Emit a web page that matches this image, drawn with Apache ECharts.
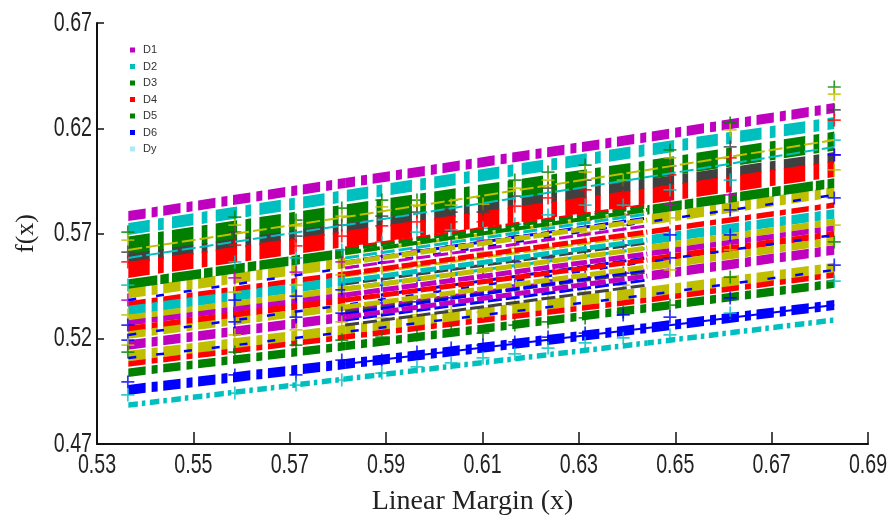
<!DOCTYPE html>
<html><head><meta charset="utf-8">
<style>html,body{margin:0;padding:0;background:#fff}#c{width:893px;height:519px}</style>
<script src="https://cdn.jsdelivr.net/npm/echarts@6/dist/echarts.min.js"></script>
</head><body><div id="c"></div>
<script>
var legendNames = ['D1','D2','D3','D4','D5','D6','Dy'];
var xTicks = [0.53,0.55,0.57,0.59,0.61,0.63,0.65,0.67,0.69];
var yTicks = [0.47,0.52,0.57,0.62,0.67];
var knotX = [0.5365, 0.5815, 0.6442, 0.683];
var crossX = [0.5364,0.5586,0.5713,0.5808,0.5891,0.5964,0.6035,0.6101,0.6167,0.6236,0.6313,0.6392,0.6489,0.6614,0.6830];

// full-length thick bands, values at knotX
var d1 = [0.5783,0.5940,0.6158,0.6296];
var d2 = [0.5721,0.5878,0.6097,0.6225];
var d3 = [0.5641,0.5793,0.6002,0.6139];
var greyBand = [0.5579,0.5726,0.5935,0.6063];
var d4 = [0.5527,0.5674,0.5878,0.6006];
var d5 = [0.5460,0.5607,0.5812,0.5940];
var d6 = [0.4957,0.5080,0.5251,0.5360];
var cyanLow = [0.4885,0.5009,0.5180,0.5289];
var oliveLow = [0.5118,0.5241,0.5422,0.5536];
var redLow = [0.5080,0.5208,0.5384,0.5503];
var greenLow = [0.5039,0.5165,0.5346,0.5462];

// bands that narrow between the 2nd and 3rd knot
var olive1 = [0.5417,0.5560,0.5764,0.5897];
var red1 = [0.5365,0.5508,0.5707,0.5835];
var cyan1 = [0.5334,0.5474,0.5669,0.5793];
var olive2 = [0.5299,0.5436,0.5631,0.5755];
var magenta1 = [0.5275,0.5408,0.5603,0.5726];
var red2 = [0.5246,0.5384,0.5574,0.5698];
var olive3 = [0.5218,0.5351,0.5541,0.5664];
var magenta2 = [0.5170,0.5303,0.5498,0.5622];

// thin full-length lines
var thinOliveTop = [0.5622,0.5778,0.6002,0.6144];
var thinCyanTop = [0.5584,0.5740,0.5968,0.6111];
var thinBlue1 = [0.5384,0.5536,0.5755,0.5883];
var thinBlue2 = [0.5218,0.5361,0.5565,0.5693];
var thinBlue3 = [0.5109,0.5232,0.5408,0.5527];

// thin lines of the central bundle, values at the 2nd and 3rd knot
var midBlue1 = [0.5565,0.5774];
var midGreen = [0.5622,0.5826];
var midOlive = [0.5603,0.5807];
var midCyan = [0.5584,0.5793];
var midMagenta1 = [0.5536,0.5736];
var midGrey1 = [0.5460,0.5655];
var midBlue2 = [0.5384,0.5584];
var midMagenta2 = [0.5337,0.5527];
var midGrey2 = [0.5327,0.5517];
var midBlue3 = [0.5318,0.5527];
var midBlue4 = [0.5289,0.5479];
var midGrey3 = [0.5265,0.5455];
var midRed = [0.5631,0.5835];
var midOlive2 = [0.5498,0.5693];
var midCyan2 = [0.5441,0.5631];

// plus marks, values at crossX
var crossGreenTop = [.5707,.5778,.5764,.5821,.5859,.5859,.5859,.5869,.5954,.5992,.6025,.5987,.6097,.6225,.6396];
var crossOliveTop = [.5669,.5740,.5736,.5783,.5826,.5835,.5835,.5840,.5916,.5954,.5992,.5954,.6059,.6192,.6362];
var crossGrey = [.5612,.5707,.5688,.5740,.5783,.5802,.5802,.5802,.5878,.5916,.5954,.5916,.6021,.6111,.6287];
var crossRed = [.5565,.5645,.5641,.5688,.5736,.5755,.5755,.5755,.5830,.5869,.5907,.5878,.5978,.6059,.6239];
var crossCyan = [.5455,.5565,.5584,.5622,.5660,.5707,.5717,.5726,.5745,.5788,.5835,.5835,.5907,.5954,.6144];
var crossMagenta = [.5384,.5489,.5517,.5565,.5593,.5622,.5641,.5669,.5688,.5726,.5764,.5788,.5835,.5883,.6073];
var crossOlive2 = [.5313,.5422,.5455,.5503,.5536,.5565,.5584,.5612,.5631,.5669,.5707,.5740,.5774,.5812,.6002];
var crossBlueD = [.5265,.5384,.5403,.5432,.5455,.5479,.5503,.5527,.5565,.5584,.5622,.5645,.5693,.5812,.6073];
var crossBlueA = [.5194,.5280,.5303,.5322,.5370,.5375,.5394,.5408,.5455,.5479,.5493,.5512,.5584,.5693,.5869];
var crossOliveB = [.5170,.5218,.5242,.5280,.5299,.5313,.5337,.5327,.5360,.5394,.5422,.5455,.5527,.5622,.5740];
var crossGreenB = [.5137,.5137,.5170,.5194,.5208,.5218,.5242,.5227,.5265,.5280,.5299,.5327,.5360,.5493,.5660];
var crossBlueB = [.4995,.5028,.5028,.5099,.5099,.5137,.5156,.5170,.5185,.5208,.5227,.5313,.5303,.5394,.5550];
var crossCyanB = [.4933,.4942,.4980,.5004,.5037,.5066,.5085,.5109,.5128,.5156,.5180,.5204,.5218,.5322,.5474];

var MAG='#BF00BF', CYA='#00BFBF', GRN='#007F00', RED='#FF0000', BLU='#0000FF', OLI='#BFBF00', GRY='#404040', LIGHT='#ADEAF7';
var DASH35=[17.3,6,6,5.6], DASH44=[21.4,8.3,5.7,8.3], DASH21=[9.5,4,3.5,4.5], DASHG=[29,3,8.5,3.2], DASHT=[14,4], DASHM=[16,3], DASHB=[8,20];

function pts(xs, ys){ return ys.map(function(y,i){return [xs[i],y];}); }
function line(name,color,width,dash,data){
  return {name:name,type:'line',data:data,showSymbol:false,symbol:'none',silent:true,animation:false,clip:false,
    color:color,itemStyle:{color:color},lineStyle:{color:color,width:width,type:dash,cap:'butt',join:'miter'}};
}
// thick dash-dot band whose dashes keep the vertical ends they have in the figure
function band(name,color,width,dash,ys,sections){
  var data=[];
  sections.forEach(function(k){ data.push([knotX[k],ys[k],knotX[k+1],ys[k+1]]); });
  var period=dash.reduce(function(a,b){return a+b;},0);
  return {name:name,type:'custom',data:data,silent:true,animation:false,clip:false,
    encode:{x:[0,2],y:[1,3]},itemStyle:{color:color},color:color,
    renderItem:function(params,api){
      var s=api.coord([api.value(0),api.value(1)]), e=api.coord([api.value(2),api.value(3)]);
      var origin=api.coord([knotX[0],0])[0], m=(e[1]-s[1])/(e[0]-s[0]), kids=[];
      var n0=Math.floor((s[0]-origin)/period)-1, n1=Math.ceil((e[0]-origin)/period)+1;
      for(var n=n0;n<=n1;n++){
        var pos=origin+n*period;
        for(var i=0;i<dash.length;i+=2){
          var a=Math.max(pos,s[0]), b=Math.min(pos+dash[i],e[0]);
          if(b>a){
            var ya=s[1]+m*(a-s[0]), yb=s[1]+m*(b-s[0]);
            kids.push({type:'polygon',shape:{points:[[a,ya-width/2],[b,yb-width/2],[b,yb+width/2],[a,ya+width/2]]},style:{fill:color}});
          }
          pos+=dash[i]+dash[i+1];
        }
      }
      return {type:'group',children:kids};
    }};
}
function cross(name,color,ys){
  return {name:name,type:'scatter',data:pts(crossX,ys),silent:true,animation:false,clip:false,
    symbol:'path://M5.2,0h1.6v5.2h5.2v1.6h-5.2v5.2h-1.6v-5.2h-5.2v-1.6h5.2z',symbolSize:13,itemStyle:{color:color}};
}
var ALL=[0,1,2], ENDS=[0,2];
var series=[];
[[thinBlue1,BLU],[thinBlue2,BLU],[thinBlue3,BLU]].forEach(function(r,i){series.push(line('thinBlue'+i,r[1],2.5,DASHB,pts(knotX,r[0])));});
[[midRed,RED],[midGreen,GRN],[midOlive,OLI],[midCyan,CYA],[midBlue1,BLU],[midMagenta1,MAG],[midOlive2,OLI],[midCyan2,CYA],[midGrey1,GRY],[midBlue2,BLU],[midMagenta2,MAG],[midGrey2,GRY],[midBlue3,BLU],[midBlue4,BLU],[midGrey3,GRY]].forEach(function(r,i){
  series.push(line('mid'+i,r[1],3,DASHT,pts(knotX.slice(1,3),r[0])));
});
series.push(band('D1',MAG,10,DASH35,d1,ALL));
series.push(band('D2',CYA,12,DASH44,d2,ALL));
series.push(band('D3',GRN,19,DASH44,d3,ALL));
series.push(band('greyBand',GRY,10,DASH44,greyBand,ALL));
series.push(band('D4',RED,16,DASH44,d4,ALL));
series.push(line('thinOliveTop',OLI,2,DASHT,pts(knotX,thinOliveTop)));
series.push(line('thinCyanTop',CYA,2,DASHT,pts(knotX,thinCyanTop)));
function sectioned(name,color,thick,ys){
  series.push(band(name,color,thick,DASH35,ys,ENDS));
  series.push(line(name+'M',color,5,DASHM,pts(knotX.slice(1,3),ys.slice(1,3))));
}
sectioned('olive1',OLI,10.5,olive1);
sectioned('red1',RED,5.5,red1);
sectioned('cyan1',CYA,9.5,cyan1);
sectioned('olive2',OLI,6.5,olive2);
sectioned('magenta1',MAG,5.5,magenta1);
sectioned('red2',RED,6.5,red2);
sectioned('olive3',OLI,7.5,olive3);
sectioned('magenta2',MAG,9.5,magenta2);
series.push(band('oliveLow',OLI,10.5,DASH35,oliveLow,ALL));
series.push(band('redLow',RED,5.5,DASH35,redLow,ALL));
series.push(band('greenLow',GRN,8.5,DASH35,greenLow,ALL));
series.push(band('D5',GRN,9.5,DASHG,d5,ENDS));
series.push(line('D5M',GRN,4,DASHM,pts(knotX.slice(1,3),d5.slice(1,3))));
series.push(line('D6thin',BLU,2,'solid',pts(knotX.slice(1),d6.slice(1))));
series.push(band('D6',BLU,10,DASH35,d6,ALL));
series.push(band('cyanLow',CYA,5.5,DASH21,cyanLow,ALL));
series.push(line('Dy',LIGHT,4,'solid',[]));
[['cGT',GRN,crossGreenTop],['cOT',OLI,crossOliveTop],['cG',GRY,crossGrey],['cR',RED,crossRed],['cC',CYA,crossCyan],['cM',MAG,crossMagenta],['cO2',OLI,crossOlive2],['cBD',BLU,crossBlueD],['cBA',BLU,crossBlueA],['cOB',OLI,crossOliveB],['cGB',GRN,crossGreenB],['cBB',BLU,crossBlueB],['cCB',CYA,crossCyanB]].forEach(function(r){
  series.push(cross(r[0],r[1],r[2]));
});

var SANS='"Liberation Sans",sans-serif', SERIF='"Liberation Serif",serif';
var chart=echarts.init(document.getElementById('c'),null,{renderer:'canvas'});
chart.setOption({
  animation:false,backgroundColor:'#fff',
  grid:{left:97,right:25,top:23,bottom:75,containLabel:false,outerBoundsMode:'none'},
  legend:{data:legendNames,orient:'vertical',left:125,top:39,icon:'rect',itemWidth:5,itemHeight:5,itemGap:4.5,selectedMode:false,
    textStyle:{fontFamily:SANS,fontSize:11,color:'#333',lineHeight:12,padding:[0,0,0,3]}},
  xAxis:{type:'value',min:0.53,max:0.69,interval:0.02,splitLine:{show:false},
    name:'Linear Margin (x)',nameLocation:'middle',nameGap:44,
    nameTextStyle:{fontFamily:SERIF,fontSize:28,color:'#222',padding:[0,20,0,0]},
    axisLine:{show:true,lineStyle:{color:'#111',width:2}},
    axisTick:{show:true,inside:true,length:12,lineStyle:{color:'#111',width:1.5}},
    axisLabel:{show:false}},
  yAxis:{type:'value',min:0.47,max:0.67,interval:0.05,splitLine:{show:false},
    name:'f(x)',nameLocation:'middle',nameGap:58,
    nameTextStyle:{fontFamily:SERIF,fontSize:26,color:'#222'},
    axisLine:{show:true,lineStyle:{color:'#111',width:2}},
    axisTick:{show:true,inside:true,length:7,lineStyle:{color:'#111',width:1.5}},
    axisLabel:{show:false}},
  series:series
});
// the tick labels are tall and condensed in the original: real text, squeezed horizontally
var labels=[];
xTicks.forEach(function(t){
  var p=chart.convertToPixel({xAxisIndex:0},t);
  labels.push({type:'text',x:p,y:465,scaleX:0.7,silent:true,z:50,style:{text:t.toFixed(2),font:'28px '+SANS,fill:'#222',textAlign:'center',textVerticalAlign:'middle'}});
});
yTicks.forEach(function(t){
  var p=chart.convertToPixel({yAxisIndex:0},t);
  labels.push({type:'text',x:92,y:p,scaleX:0.7,silent:true,z:50,style:{text:t.toFixed(2),font:'28px '+SANS,fill:'#222',textAlign:'right',textVerticalAlign:'middle'}});
});
chart.setOption({graphic:{elements:labels}});
</script></body></html>
